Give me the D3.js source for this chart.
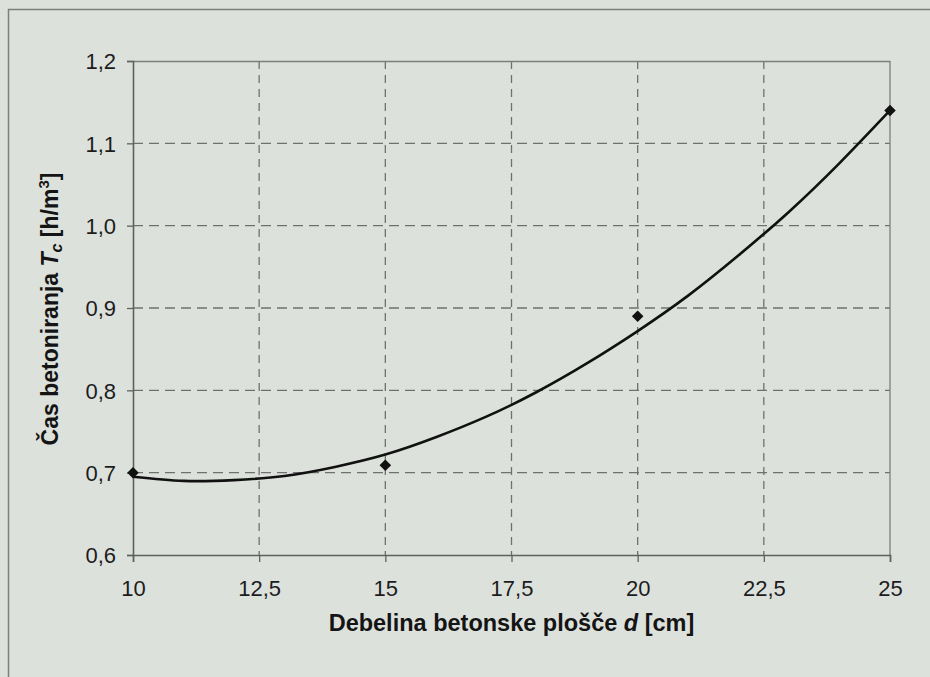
<!DOCTYPE html>
<html>
<head>
<meta charset="utf-8">
<script src="https://cdn.jsdelivr.net/npm/d3@7"></script>
<style>
  html, body { margin: 0; padding: 0; background: #dde1dc; }
  svg { display: block; }
</style>
</head>
<body>
<div id="chart"></div>
<script>
/* global d3 */

// measured points (diamonds)
const pointX = [10, 15, 20, 25];
const pointY = [0.70, 0.709, 0.89, 1.14];

// trend curve
const curveX = [10, 11, 12, 13, 14, 15, 16, 17, 18, 19, 20, 21, 22, 23, 24, 25];
const curveY = [0.695, 0.690, 0.691, 0.696, 0.707, 0.722, 0.743, 0.768, 0.798, 0.833,
  0.872, 0.915, 0.964, 1.017, 1.076, 1.14];

const xTicks = [10, 12.5, 15, 17.5, 20, 22.5, 25];
const yTicks = [0.6, 0.7, 0.8, 0.9, 1.0, 1.1, 1.2];

const width = 930;
const height = 677;
const margin = { top: 61, right: 40, bottom: 122, left: 133 };
const innerW = width - margin.left - margin.right;
const innerH = height - margin.top - margin.bottom;

const font = '"Liberation Sans", Arial, Helvetica, sans-serif';
const comma = (v, digits) => d3.format(`.${digits}f`)(v).replace('.', ',');

const svg = d3.select('#chart')
  .append('svg')
  .attr('width', width)
  .attr('height', height);

svg.append('rect')
  .attr('width', width)
  .attr('height', height)
  .attr('fill', '#dde1dc');

// page frame (left + top edge of the printed figure box)
svg.append('path')
  .attr('d', `M8.5,${height} V9.5 H${width}`)
  .attr('fill', 'none')
  .attr('stroke', '#7d7f7c')
  .attr('stroke-width', 1.5);

const x = d3.scaleLinear().domain([10, 25]).range([0, innerW]);
const y = d3.scaleLinear().domain([0.6, 1.2]).range([innerH, 0]);

const g = svg.append('g')
  .attr('transform', `translate(${margin.left},${margin.top})`);

// dashed grid
g.append('g')
  .selectAll('line')
  .data(yTicks.slice(1, -1))
  .join('line')
  .attr('x1', 0)
  .attr('x2', innerW)
  .attr('y1', (d) => y(d))
  .attr('y2', (d) => y(d))
  .attr('stroke', '#6f716e')
  .attr('stroke-width', 1.3)
  .attr('stroke-dasharray', '10,6');

g.append('g')
  .selectAll('line')
  .data(xTicks.slice(1, -1))
  .join('line')
  .attr('x1', (d) => x(d))
  .attr('x2', (d) => x(d))
  .attr('y1', 0)
  .attr('y2', innerH)
  .attr('stroke', '#6f716e')
  .attr('stroke-width', 1.3)
  .attr('stroke-dasharray', '8,6');

// plot frame top + right
g.append('path')
  .attr('d', `M0,0.5 H${innerW} V${innerH}`)
  .attr('fill', 'none')
  .attr('stroke', '#7d7f7c')
  .attr('stroke-width', 1.3);

// axes
const xAxis = g.append('g')
  .attr('transform', `translate(0,${innerH})`)
  .call(d3.axisBottom(x)
    .tickValues(xTicks)
    .tickSizeOuter(0)
    .tickSize(7)
    .tickPadding(18)
    .tickFormat((d) => (Number.isInteger(d) ? `${d}` : comma(d, 1))));

const yAxis = g.append('g')
  .call(d3.axisLeft(y)
    .tickValues(yTicks)
    .tickSizeOuter(0)
    .tickSize(6)
    .tickPadding(11)
    .tickFormat((d) => comma(d, 1)));

[xAxis, yAxis].forEach((ax) => {
  ax.select('.domain')
    .attr('stroke', '#5f615e')
    .attr('stroke-width', 1.6);
  ax.selectAll('.tick line')
    .attr('stroke', '#5f615e')
    .attr('stroke-width', 1.3);
  ax.selectAll('.tick text')
    .attr('fill', '#1c1c1c')
    .style('font-family', font)
    .style('font-size', '22px');
});
yAxis.selectAll('.tick text').attr('dy', '0.36em');

// trend curve
const line = d3.line()
  .x((d, i) => x(curveX[i]))
  .y((d) => y(d))
  .curve(d3.curveNatural);

g.append('path')
  .datum(curveY)
  .attr('d', line)
  .attr('fill', 'none')
  .attr('stroke', '#111')
  .attr('stroke-width', 2.6)
  .attr('stroke-linejoin', 'round');

// diamonds
g.append('g')
  .selectAll('path')
  .data(pointY)
  .join('path')
  .attr('transform', (d, i) => `translate(${x(pointX[i])},${y(d)})`)
  .attr('d', d3.symbol(d3.symbolDiamond2, 85))
  .attr('fill', '#111');

// axis titles
svg.append('text')
  .attr('x', margin.left + innerW / 2)
  .attr('y', 631)
  .attr('text-anchor', 'middle')
  .attr('fill', '#141414')
  .style('font-family', font)
  .style('font-size', '23.5px')
  .style('font-weight', 'bold')
  .call((t) => {
    t.append('tspan').text('Debelina betonske plošče ');
    t.append('tspan').style('font-style', 'italic').text('d');
    t.append('tspan').text(' [cm]');
  });

svg.append('text')
  .attr('transform', `translate(58,${309}) rotate(-90)`)
  .attr('text-anchor', 'middle')
  .attr('fill', '#141414')
  .style('font-family', font)
  .style('font-size', '23px')
  .style('font-weight', 'bold')
  .call((t) => {
    t.append('tspan').text('Čas betoniranja ');
    t.append('tspan').style('font-style', 'italic').text('T');
    t.append('tspan')
      .style('font-style', 'italic')
      .style('font-size', '16px')
      .attr('dy', 4)
      .text('c');
    t.append('tspan').attr('dy', -4).text(' [h/m');
    t.append('tspan')
      .style('font-size', '15px')
      .attr('dy', -9)
      .text('3');
    t.append('tspan').attr('dy', 9).text(']');
  });
</script>
</body>
</html>
